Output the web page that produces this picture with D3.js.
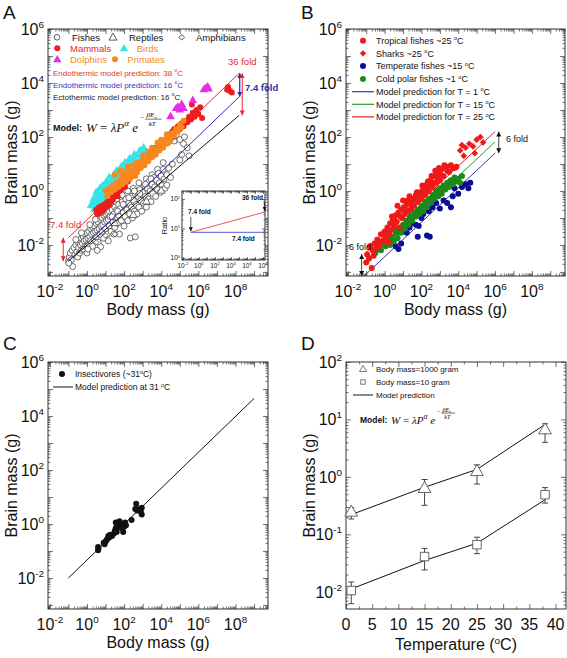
<!DOCTYPE html>
<html><head><meta charset="utf-8">
<script src="https://cdn.jsdelivr.net/npm/d3@7"></script>
<style>body{margin:0;background:#fff}svg{display:block}</style>
</head><body><svg id="c" width="567" height="658"></svg>
<script>
// ---------------- DATA (log10 body mass g, log10 brain mass g) ----------------
const A_fishes = [[-1.0,-2.6],[-0.95,-2.45],[-0.9,-2.3],[-0.85,-2.55],[-0.8,-2.2],[-0.77,-2.8],[-0.98,-2.67],[-0.7,-2.1],[-0.65,-2.35],[-0.6,-2.0],[-0.55,-2.25],[-0.5,-1.9],[-0.5,-2.45],[-0.45,-2.1],[-0.4,-1.85],[-0.4,-2.3],[-0.35,-2.0],[-0.3,-1.75],[-0.3,-2.2],[-0.25,-1.95],[-0.2,-1.7],[-0.2,-2.15],[-0.15,-1.85],[-0.1,-1.6],[-0.1,-2.05],[-0.05,-1.8],[0,-1.55],[0,-2.0],[0,-2.3],[0.05,-1.75],[0.1,-1.5],[0.1,-1.95],[0.15,-1.7],[0.2,-1.4],[0.2,-1.85],[0.25,-1.6],[0.3,-1.35],[0.3,-2.05],[0.35,-1.55],[0.4,-1.3],[0.4,-1.8],[0.45,-1.5],[0.5,-1.2],[0.5,-1.7],[0.55,-1.45],[0.6,-1.15],[0.6,-1.9],[0.65,-1.4],[0.7,-1.05],[0.7,-1.6],[0.73,-2.07],[0.75,-1.3],[0.8,-1.0],[0.8,-1.5],[0.85,-1.25],[0.9,-0.9],[0.9,-1.75],[0.95,-1.15],[1.0,-0.85],[1.0,-1.4],[1.05,-1.1],[1.1,-0.8],[1.1,-1.6],[1.15,-1.05],[1.2,-0.75],[1.2,-1.3],[1.25,-0.95],[1.3,-1.5],[1.3,-0.45],[1.35,-0.7],[1.4,-1.15],[1.45,-0.85],[1.5,-0.6],[1.5,-1.35],[1.55,-1.0],[1.6,-0.7],[1.6,-0.3],[1.65,-1.2],[1.7,-0.5],[1.7,-0.9],[1.75,-1.6],[1.8,-0.65],[1.85,-1.1],[1.9,-0.4],[1.9,-0.15],[1.95,-0.8],[2.0,-0.55],[2.0,-1.3],[2.05,-0.95],[2.1,-0.3],[2.15,-0.7],[2.2,-1.1],[2.2,0.0],[2.25,-0.45],[2.3,-0.85],[2.33,-1.74],[2.4,-0.2],[2.4,-0.6],[2.45,-1.0],[2.5,-0.35],[2.5,0.1],[2.55,-0.75],[2.6,-0.1],[2.6,-1.7],[2.65,-0.5],[2.7,-0.85],[2.75,-0.2],[2.8,-0.6],[2.8,0.3],[2.85,0.05],[2.9,-0.35],[2.95,-0.75],[3.0,-0.05],[3.05,-0.45],[3.1,0.2],[3.15,-0.2],[3.2,-0.6],[3.2,0.45],[3.25,0.1],[3.3,-0.3],[3.35,0.35],[3.4,0.0],[3.45,-0.4],[3.5,0.25],[3.5,0.6],[3.55,-0.1],[3.6,0.5],[3.65,0.15],[3.7,-0.2],[3.75,0.4],[3.8,0.05],[3.8,0.8],[3.85,0.65],[3.9,0.3],[3.95,-0.05],[4.0,0.55],[4.05,0.2],[4.1,0.8],[4.1,1.05],[4.15,0.45],[4.2,0.1],[4.3,0.6],[4.3,0.22],[4.4,0.85],[4.5,0.5],[4.55,2.1],[4.6,1.0],[4.7,1.85],[4.8,2.05],[5.0,1.15],[5.0,1.9],[5.1,1.35],[5.2,1.75],[5.25,2.0],[5.4,1.6],[5.5,1.3],[0.15,-1.25],[0.45,-1.05],[0.75,-0.8],[1.05,-0.6],[1.35,-0.95],[1.65,-0.75],[1.95,-0.5],[2.25,-0.25],[2.55,0.0],[2.85,-0.1],[3.15,0.25],[3.45,0.45],[-0.6,-1.8],[-0.3,-1.55],[0.05,-2.15],[0.55,-2.2],[1.15,-1.85],[1.45,-1.6]];
const A_reptiles = [[1.5,-1.2],[2.5,-0.9],[3.2,-0.4],[4.0,0.0]];
const A_amphibians = [[0.5,-1.9],[1.0,-1.65],[1.5,-1.6]];
const A_birds = [[0.2,-0.55],[0.3,-0.5],[0.35,-0.3],[0.4,-0.4],[0.4,-0.7],[0.45,-0.6],[0.5,-0.3],[0.5,-0.05],[0.55,-0.55],[0.6,-0.45],[0.6,-0.1],[0.65,-0.2],[0.7,-0.35],[0.7,0.1],[0.75,-0.5],[0.8,-0.1],[0.8,-0.55],[0.85,-0.3],[0.85,0.2],[0.9,0.0],[0.95,-0.35],[1.0,-0.15],[1.0,0.1],[1.05,0.35],[1.1,0.05],[1.1,-0.3],[1.15,0.25],[1.2,-0.05],[1.2,0.5],[1.25,-0.2],[1.3,0.2],[1.3,0.0],[1.35,0.4],[1.4,0.1],[1.45,-0.1],[1.45,0.6],[1.5,0.35],[1.55,0.55],[1.6,0.25],[1.6,0.75],[1.65,0.1],[1.7,0.5],[1.75,0.7],[1.8,0.4],[1.85,0.9],[1.9,0.65],[1.95,0.85],[2.0,0.55],[2.0,0.3],[2.05,1.05],[2.1,0.8],[2.2,1.0],[2.25,0.7],[2.3,1.2],[2.35,0.95],[2.4,0.6],[2.45,1.15],[2.5,0.85],[2.55,1.35],[2.6,1.1],[2.7,1.3],[2.75,0.9],[2.8,1.05],[2.85,1.5],[2.9,1.25],[3.0,1.4],[3.0,1.1],[3.05,1.6],[3.1,1.2],[3.2,1.45]];
const A_mammals = [[0.5,-0.7],[0.55,-0.85],[0.6,-0.75],[0.65,-0.6],[0.7,-0.8],[0.75,-0.7],[0.8,-0.55],[0.85,-0.75],[0.9,-0.65],[0.95,-0.5],[1.0,-0.6],[1.05,-0.45],[1.1,-0.55],[1.15,-0.35],[1.2,-0.5],[1.25,-0.3],[1.3,-0.4],[1.35,-0.2],[1.4,-0.3],[1.5,-0.15],[1.55,-0.05],[1.6,0.0],[1.65,-0.2],[1.7,0.1],[1.75,0.0],[1.8,0.2],[1.85,0.05],[1.9,0.25],[2.0,0.3],[2.05,0.15],[2.1,0.4],[2.2,0.35],[2.25,0.5],[2.3,0.45],[2.4,0.55],[2.45,0.7],[2.5,0.6],[2.6,0.75],[2.7,0.7],[2.75,0.9],[2.8,0.85],[2.9,1.0],[3.0,0.95],[3.05,1.15],[3.1,1.05],[3.2,1.2],[3.3,1.15],[3.35,1.35],[3.4,1.25],[3.5,1.4],[3.6,1.5],[3.65,1.35],[3.7,1.6],[3.8,1.55],[3.9,1.7],[4.0,1.65],[4.05,1.85],[4.1,1.75],[4.2,1.9],[4.3,1.85],[4.35,2.05],[4.4,1.95],[4.5,2.1],[4.6,2.2],[4.65,2.0],[4.7,2.3],[4.8,2.25],[4.9,2.4],[5.0,2.3],[5.1,2.5],[5.2,2.4],[5.3,2.6],[5.4,2.55],[5.5,2.75],[5.6,2.65],[5.7,2.9],[5.8,2.75],[5.9,3.0],[6.0,2.85],[6.1,3.1],[6.2,2.7],[5.65,3.2],[7.55,3.75],[7.7,3.7],[7.8,3.65],[7.6,3.85]];
const A_primates = [[1.0,0.0],[1.1,-0.2],[1.2,0.1],[1.3,-0.05],[1.4,0.2],[1.5,0.05],[1.5,0.6],[1.6,0.3],[1.7,0.15],[1.8,0.4],[1.8,0.75],[1.9,0.25],[1.9,0.55],[2.0,0.5],[2.0,0.7],[2.1,0.35],[2.2,0.6],[2.2,0.9],[2.3,0.45],[2.3,0.75],[2.4,0.7],[2.5,0.6],[2.5,0.95],[2.6,0.85],[2.6,0.55],[2.7,0.7],[2.7,1.05],[2.8,1.0],[2.9,0.85],[3.0,1.1],[3.0,1.3],[3.1,0.95],[3.1,1.15],[3.2,1.25],[3.3,1.1],[3.3,1.45],[3.4,1.35],[3.5,1.25],[3.5,1.6],[3.6,1.5],[3.7,1.35],[3.7,1.55],[3.8,1.6],[3.8,1.8],[3.9,1.5],[4.0,1.75],[4.0,1.9],[4.1,1.6],[4.2,1.9],[4.3,1.75],[4.3,2.1],[4.4,2.0],[4.4,1.8],[4.5,1.9],[4.6,2.15],[4.7,2.05],[4.8,2.3],[4.9,2.2],[5.0,2.45],[5.1,2.35],[5.2,2.6]];
const A_dolphins = [[4.5,2.75],[4.8,3.05],[4.9,3.1],[5.0,3.0],[5.1,3.2],[5.2,3.05],[5.7,3.35],[6.3,3.75],[6.4,3.8],[6.5,3.85],[6.55,3.78]];
const A_modelEndo38 = [[-1,-1.73],[8.2,4.36]];
const A_modelEndo16 = [[-1,-2.6],[8.2,3.49]];
const A_modelEcto16 = [[-1,-2.6],[8.2,2.8]];
const A_inset38 = [[-1,0.87],[8.2,1.556]];
const A_inset16 = [[-1,0.87],[8.2,0.87]];

const B_tropical = [[-1.0,-2.65],[-0.95,-2.35],[-0.85,-2.5],[-0.8,-2.05],[-0.7,-2.85],[-0.65,-2.2],[-0.6,-2.4],[-0.55,-1.95],[-0.5,-2.15],[-0.45,-1.95],[-0.4,-1.8],[-0.3,-2.05],[-0.25,-1.9],[-0.2,-1.6],[-0.1,-1.85],[0.0,-1.5],[0.05,-1.7],[0.1,-1.55],[0.15,-1.35],[0.2,-1.9],[0.25,-1.6],[0.3,-1.2],[0.35,-1.45],[0.4,-0.95],[0.45,-1.05],[0.5,-1.3],[0.55,-1.1],[0.6,-0.9],[0.65,-1.15],[0.7,-0.55],[0.75,-0.8],[0.8,-1.35],[0.85,-0.95],[0.9,-0.7],[0.95,-1.0],[1.0,-0.35],[1.05,-0.6],[1.1,-0.85],[1.15,-0.7],[1.2,-0.5],[1.25,-0.35],[1.3,-0.75],[1.35,-0.2],[1.4,-0.4],[1.45,-0.65],[1.5,-0.5],[1.55,-0.3],[1.6,-0.55],[1.65,-0.3],[1.7,-0.15],[1.75,-0.05],[1.8,-0.4],[1.9,-0.05],[1.95,-0.2],[2.0,-0.3],[2.05,0.2],[2.1,0.1],[2.15,-0.05],[2.2,-0.15],[2.25,0.05],[2.3,0.25],[2.35,0.35],[2.4,0.0],[2.45,0.2],[2.5,0.4],[2.55,0.55],[2.6,0.15],[2.65,0.3],[2.7,0.55],[2.75,0.75],[2.8,0.3],[2.85,0.5],[2.9,0.65],[2.95,0.85],[3.0,0.4],[3.05,0.6],[3.1,0.8],[3.2,0.55],[3.25,0.95],[3.35,0.9],[3.4,0.75],[3.5,0.7],[3.6,0.95],[3.7,0.85],[3.8,0.85],[3.9,0.9]];
const B_sharks = [[4.1,1.5],[4.2,1.7],[4.3,1.3],[4.4,1.6],[4.6,1.75],[4.8,1.65],[4.9,1.4],[5.0,1.9],[5.2,2.0],[5.35,1.8]];
const B_temperate = [[0.6,-2.05],[0.75,-2.15],[0.9,-1.95],[1.05,-1.5],[1.2,-1.55],[1.35,-1.35],[1.5,-1.2],[1.7,-1.25],[1.8,-1.7],[1.85,-1.3],[2.0,-1.0],[2.1,-0.85],[2.3,-1.65],[2.45,-1.7],[2.4,-0.75],[2.6,-0.6],[2.8,-0.45],[2.9,-0.2],[3.0,-0.65],[3.2,-0.35],[3.4,-0.45],[3.6,-0.6],[3.7,-0.2],[3.8,0.1],[4.0,-0.1],[4.2,0.15],[4.4,0.25],[4.55,0.1],[4.65,0.3]];
const B_polar = [[-0.5,-2.3],[-0.35,-2.15],[-0.2,-2.2],[-0.1,-1.95],[0.05,-2.05],[0.15,-1.6],[0.2,-1.8],[0.3,-2.0],[0.35,-1.85],[0.4,-1.7],[0.5,-1.85],[0.55,-1.45],[0.6,-1.55],[0.7,-1.75],[0.75,-1.55],[0.8,-1.4],[0.9,-1.55],[0.95,-1.35],[1.0,-1.25],[1.1,-1.4],[1.15,-1.2],[1.2,-1.1],[1.3,-1.25],[1.35,-1.0],[1.4,-0.95],[1.5,-1.1],[1.55,-0.95],[1.6,-0.8],[1.7,-0.95],[1.75,-0.8],[1.8,-0.7],[1.9,-0.85],[1.95,-0.65],[2.0,-0.55],[2.1,-0.75],[2.15,-0.55],[2.2,-0.4],[2.3,-0.6],[2.35,-0.45],[2.4,-0.3],[2.5,-0.45],[2.55,-0.3],[2.6,-0.15],[2.7,-0.3],[2.75,-0.1],[2.8,0.0],[2.9,-0.2],[2.95,0.05],[3.0,0.1],[3.1,-0.1],[3.15,0.1],[3.2,0.2],[3.3,0.05],[3.35,0.2],[3.4,0.3],[3.5,0.15],[3.55,0.35],[3.6,0.4],[3.7,0.25],[3.75,0.4],[3.8,0.5],[3.9,0.35],[4.0,0.45],[4.1,0.3],[4.2,0.55]];
const B_modelT1 = [[-1.1,-3.14],[6,1.4]];
const B_modelT15 = [[-1.1,-2.72],[6,1.82]];
const B_modelT25 = [[-1.1,-2.34],[6,2.2]];

const C_insectivores = [[0.6,-0.85],[0.6,-0.97],[0.62,-0.9],[0.9,-0.7],[0.95,-0.75],[1.0,-0.65],[1.05,-0.6],[1.1,-0.55],[1.15,-0.45],[1.2,-0.5],[1.25,-0.4],[1.35,-0.45],[1.45,-0.35],[1.5,-0.25],[1.55,-0.15],[1.55,0.05],[1.6,-0.3],[1.65,-0.1],[1.7,0.05],[1.75,0.1],[1.8,-0.05],[1.85,-0.15],[1.9,0.0],[1.95,-0.3],[2.0,-0.1],[2.05,0.05],[2.1,-0.05],[2.4,0.15],[2.6,0.55],[2.65,0.75],[2.7,0.5],[2.8,0.55],[2.9,0.45],[2.95,0.35],[2.95,0.6]];
const C_model31 = [[-1,-2],[9,4.65]];

const D_temps = [1,15,25,38];
const D_tri = [0.24,0.62,1.22,6.5];
const D_triLo = [0.185,0.32,0.75,4.0];
const D_triHi = [0.29,0.9,1.62,8.4];
const D_triModel = [0.22,0.66,1.35,8.2];
const D_sq = [0.0105,0.041,0.066,0.49];
const D_sqLo = [0.0062,0.024,0.046,0.35];
const D_sqHi = [0.0148,0.057,0.089,0.65];
const D_sqModel = [0.0112,0.035,0.07,0.4];
const D_xTicks = [0,5,10,15,20,25,30,35,40];

const logXLabels = [-2,0,2,4,6,8];
const logYLabels = [-2,0,2,4,6];
const D_yLabels = [-2,-1,0,1,2];
const inset_xLabels = [-2,0,2,4,6,8];
const inset_yLabels = [0,1,2];

// ---------------- HELPERS ----------------
const SANS='"Liberation Sans",Arial,Helvetica,sans-serif';
const SERIF='"Liberation Serif","DejaVu Serif","Times New Roman",serif';
const p10=v=>Math.pow(10,v);
const svg=d3.select('#c');
svg.append('rect').attr('width',567).attr('height',658).attr('fill','#fff');
const defs=svg.append('defs');
function arrowMarker(id,color,s){
  defs.append('marker').attr('id',id).attr('viewBox','0 0 10 10').attr('refX',10).attr('refY',5)
    .attr('markerWidth',s).attr('markerHeight',s).attr('markerUnits','userSpaceOnUse')
    .attr('orient','auto-start-reverse').append('path').attr('d','M0,0L10,5L0,10z').attr('fill',color);
}
arrowMarker('arR','#e8262b',5);arrowMarker('arB','#2b2bb0',5);arrowMarker('arK','#111',5);arrowMarker('arKs','#111',4);

function frame(g,x,y,box,xM,xm,yM,ym,L){
  const add=(axis,tx,ty)=>{const s=g.append('g').attr('transform',`translate(${tx},${ty})`).call(axis);
    s.select('.domain').remove();s.selectAll('text').remove();s.selectAll('line').attr('stroke','#333').attr('stroke-width',0.7);};
  [[xM,L],[xm,L*0.5]].forEach(([v,l])=>{
    add(d3.axisBottom(x).tickValues(v).tickSizeInner(-l).tickSizeOuter(0).tickFormat(''),0,box.b);
    add(d3.axisTop(x).tickValues(v).tickSizeInner(-l).tickSizeOuter(0).tickFormat(''),0,box.t);
  });
  [[yM,L],[ym,L*0.5]].forEach(([v,l])=>{
    add(d3.axisLeft(y).tickValues(v).tickSizeInner(-l).tickSizeOuter(0).tickFormat(''),box.l,0);
    add(d3.axisRight(y).tickValues(v).tickSizeInner(-l).tickSizeOuter(0).tickFormat(''),box.r,0);
  });
  g.append('rect').attr('x',box.l).attr('y',box.t).attr('width',box.r-box.l).attr('height',box.b-box.t)
    .attr('fill','none').attr('stroke','#333').attr('stroke-width',1);
}
const decs=d=>d3.range(Math.ceil(d[0]-1e-9),Math.floor(d[1]+1e-9)+1).map(p10);
const mins=d=>{const a=[];for(let e=Math.floor(d[0]);e<Math.ceil(d[1]);e++)for(let m=2;m<10;m++){const lv=Math.log10(m)+e;if(lv>d[0]&&lv<d[1])a.push(p10(lv));}return a;};

let clipN=0;
function logPanel(box,xd,yd,L){
  const g=svg.append('g');
  const x=d3.scaleLog().domain([p10(xd[0]),p10(xd[1])]).range([box.l,box.r]);
  const y=d3.scaleLog().domain([p10(yd[0]),p10(yd[1])]).range([box.b,box.t]);
  const id='clip'+(clipN++);
  defs.append('clipPath').attr('id',id).append('rect').attr('x',box.l).attr('y',box.t).attr('width',box.r-box.l).attr('height',box.b-box.t);
  const data=g.append('g').attr('clip-path',`url(#${id})`);
  frame(g,x,y,box,decs(xd),mins(xd),decs(yd),mins(yd),L);
  return {g,data,x,y,box};
}
function supLabel(g,x,y,base,exp,anchor,fs){
  const t=g.append('text').attr('x',x).attr('y',y).attr('text-anchor',anchor).attr('font-size',fs).attr('font-family',SANS).attr('fill','#111');
  t.append('tspan').text(base);
  t.append('tspan').attr('dy',-fs*0.45).attr('font-size',fs*0.62).text(exp);
  return t;
}
function richText(g,x,y,str,fs,color,opts){
  opts=opts||{};
  const t=g.append('text').attr('x',x).attr('y',y).attr('font-size',fs).attr('font-family',SANS).attr('fill',color||'#111')
    .attr('font-weight',opts.bold?'bold':'normal').attr('text-anchor',opts.anchor||'start');
  if(opts.rotate)t.attr('transform',`rotate(-90,${x},${y})`);
  const parts=str.split('°');
  t.append('tspan').text(parts[0]);
  if(parts.length>1){t.append('tspan').attr('font-size',fs*0.62).attr('dy',-fs*0.38).text('o');t.append('tspan').attr('dy',fs*0.38).text(parts[1]);}
  return t;
}
function logAxisLabels(P,xl,yl,fs){
  xl.forEach(e=>supLabel(P.g,P.x(p10(e)),P.box.b+21,'10',String(e),'middle',fs));
  yl.forEach(e=>supLabel(P.g,P.box.l-4,P.y(p10(e))+6,'10',String(e),'end',fs));
}
function titles(g,box,xt,yt,fs){
  richText(g,(box.l+box.r)/2,box.b+39,xt,fs,'#111',{anchor:'middle'});
  richText(g,box.l-31,(box.t+box.b)/2,yt,fs,'#111',{anchor:'middle',rotate:true});
}
function panelLetter(x,y,s){svg.append('text').attr('x',x).attr('y',y).attr('font-size',19).attr('font-family',SANS).attr('fill','#111').text(s);}
function formula(g,x,y,fs){
  const t=g.append('text').attr('x',x).attr('y',y).attr('font-size',fs).attr('font-family',SERIF).attr('fill','#111');
  t.append('tspan').attr('font-style','italic').text('W');
  t.append('tspan').text(' = ');
  t.append('tspan').attr('font-style','italic').text('λP');
  t.append('tspan').attr('font-style','italic').attr('dy',-fs*0.4).attr('font-size',fs*0.7).text('α');
  t.append('tspan').attr('font-style','italic').attr('dy',fs*0.4).text(' e');
  const w=t.node().getComputedTextLength();
  const fx=x+w+2, f=fs*0.55;
  g.append('text').attr('x',fx).attr('y',y-fs*0.85).attr('font-size',f).attr('font-family',SERIF).text('−');
  const fx2=fx+f*0.7;
  const num=g.append('text').attr('x',fx2+f*0.2).attr('y',y-fs*1.08).attr('font-size',f).attr('font-family',SERIF).attr('font-style','italic');
  num.append('tspan').text('βE');num.append('tspan').attr('font-size',f*0.7).attr('dy',f*0.25).text('v');
  g.append('line').attr('x1',fx2).attr('x2',fx2+f*2.3).attr('y1',y-fs*0.95).attr('y2',y-fs*0.95).attr('stroke','#111').attr('stroke-width',0.6);
  g.append('text').attr('x',fx2+f*0.5).attr('y',y-fs*0.42).attr('font-size',f).attr('font-family',SERIF).attr('font-style','italic').text('kT');
}
const sym=(type,size)=>d3.symbol().type(type).size(size)();
function drawLine(sel,P,pts,color,w){
  sel.append('path').attr('d',d3.line().x(d=>P.x(p10(d[0]))).y(d=>P.y(p10(d[1])))(pts)).attr('fill','none').attr('stroke',color).attr('stroke-width',w||1);
}
function dots(sel,P,pts,r,fill,stroke,sw){
  sel.selectAll(null).data(pts).enter().append('circle').attr('cx',d=>P.x(p10(d[0]))).attr('cy',d=>P.y(p10(d[1]))).attr('r',r)
    .attr('fill',fill).attr('stroke',stroke||'none').attr('stroke-width',sw||0);
}
function syms(sel,P,pts,type,size,fill,stroke,sw,rot){
  sel.selectAll(null).data(pts).enter().append('path').attr('d',sym(type,size))
    .attr('transform',d=>`translate(${P.x(p10(d[0]))},${P.y(p10(d[1]))})`+(rot?` rotate(${rot})`:'')).attr('fill',fill).attr('stroke',stroke||'none').attr('stroke-width',sw||0);
}
function vArrow(g,x,y1,y2,color,marker,both,w){
  const l=g.append('line').attr('x1',x).attr('x2',x).attr('y1',y1).attr('y2',y2).attr('stroke',color).attr('stroke-width',w||1).attr('marker-end',`url(#${marker})`);
  if(both)l.attr('marker-start',`url(#${marker})`);
}

// colours
const cRed='#ee1c1c',cCyan='#33e3ea',cOrange='#f7871f',cMag='#e52ee6',cLR='#e8262b',cLB='#2b2bb0';

// ---------------- PANEL A ----------------
panelLetter(3,19,'A');
const A=logPanel({l:48,t:29,r:268,b:276},[-2.1,9.75],[-3.15,6],5);
logAxisLabels(A,logXLabels,logYLabels,16);
titles(A.g,A.box,'Body mass (g)','Brain mass (g)',16);
dots(A.data,A,A_fishes,3,'#fff','#333',0.7);
syms(A.data,A,A_reptiles,d3.symbolTriangle,26,'#fff','#333',0.7);
syms(A.data,A,A_amphibians,d3.symbolSquare,14,'#fff','#333',0.7,45);
syms(A.data,A,A_birds,d3.symbolTriangle,30,cCyan);
drawLine(A.data,A,A_modelEcto16,'#111',1);
drawLine(A.data,A,A_modelEndo16,cLB,1);
drawLine(A.data,A,A_modelEndo38,cLR,1);
dots(A.data,A,A_mammals,3,cRed);
dots(A.data,A,A_primates,3,cOrange);
syms(A.data,A,A_dolphins,d3.symbolTriangle,32,cMag);
{
  const xr=A.x(p10(8.2)), top=A.y(p10(A_modelEndo38[1][1]));
  vArrow(A.g,xr+0.5,top,A.y(p10(A_modelEndo16[1][1])),cLB,'arB',true,1.2);
  vArrow(A.g,xr+3,top,A.y(p10(A_modelEcto16[1][1])),cLR,'arR',true,1);
  const xl=A.x(p10(-1.28));
  vArrow(A.g,xl,A.y(p10(A_modelEndo38[0][1])),A.y(p10(A_modelEndo16[0][1])),cLR,'arR',true,1);
  A.g.append('text').attr('x',228).attr('y',65).attr('font-size',9.5).attr('font-family',SANS).attr('fill',cLR).text('36 fold');
  A.g.append('text').attr('x',245).attr('y',91).attr('font-size',9.5).attr('font-weight','bold').attr('font-family',SANS).attr('fill',cLB).text('7.4 fold');
  A.g.append('text').attr('x',50).attr('y',228).attr('font-size',9.5).attr('font-family',SANS).attr('fill',cLR).text('7.4 fold');
}
{
  const g=A.g, fs=9.5;
  const lt=(x,y,s,c)=>g.append('text').attr('x',x).attr('y',y+3.3).attr('font-size',fs).attr('font-family',SANS).attr('fill',c).text(s);
  g.append('circle').attr('cx',57).attr('cy',37.3).attr('r',2.8).attr('fill','#fff').attr('stroke','#333').attr('stroke-width',0.8); lt(72,37.3,'Fishes','#111');
  g.append('path').attr('d',sym(d3.symbolTriangle,28)).attr('transform','translate(113,37.8)').attr('fill','#fff').attr('stroke','#333').attr('stroke-width',0.8); lt(129,37.3,'Reptiles','#111');
  g.append('path').attr('d',sym(d3.symbolSquare,16)).attr('transform','translate(181.7,37.3) rotate(45)').attr('fill','#fff').attr('stroke','#333').attr('stroke-width',0.8); lt(196,37.3,'Amphibians','#111');
  g.append('circle').attr('cx',57.3).attr('cy',48.3).attr('r',3).attr('fill',cRed); lt(70,48.3,'Mammals',cRed);
  g.append('path').attr('d',sym(d3.symbolTriangle,30)).attr('transform','translate(124,48.8)').attr('fill',cCyan); lt(136.7,48.3,'Birds','#f08c1e');
  g.append('path').attr('d',sym(d3.symbolTriangle,30)).attr('transform','translate(57.3,59.8)').attr('fill',cMag); lt(70,59.3,'Dolphins','#f08c1e');
  g.append('circle').attr('cx',115).attr('cy',59.3).attr('r',3).attr('fill',cOrange); lt(127.3,59.3,'Primates','#f08c1e');
  richText(g,53,75.5,'Endothermic model prediction: 38 °C',8,'#e83030');
  richText(g,53,87.5,'Endothermic model prediction: 16 °C',8,'#3434c8');
  richText(g,53,99.5,'Ectothermic model prediction: 16 °C',8,'#222');
  g.append('text').attr('x',53).attr('y',131).attr('font-size',9).attr('font-weight','bold').attr('font-family',SANS).attr('fill','#111').text('Model:');
  formula(g,86,131.5,13);
}
{
  const ib={l:182,t:191,r:265,b:260};
  A.g.append('rect').attr('x',ib.l).attr('y',ib.t).attr('width',ib.r-ib.l).attr('height',ib.b-ib.t).attr('fill','#fff');
  const I=logPanel(ib,[-2.1,8.25],[-0.07,2.27],3);
  inset_xLabels.forEach(e=>supLabel(I.g,I.x(p10(e)),ib.b+8,'10',String(e),'middle',6.5));
  inset_yLabels.forEach(e=>supLabel(I.g,ib.l-2,I.y(p10(e))+2.5,'10',String(e),'end',6.5));
  richText(I.g,167,(ib.t+ib.b)/2,'Ratio',7.5,'#111',{anchor:'middle',rotate:true});
  drawLine(I.data,I,A_inset16,'#7777dd',1.2);
  drawLine(I.data,I,A_inset38,'#ee5555',1);
  const bt=(x,y,s)=>I.g.append('text').attr('x',x).attr('y',y).attr('font-size',6.5).attr('font-weight','bold').attr('font-family',SANS).attr('fill','#111').text(s);
  bt(188,214,'7.4 fold'); bt(242,200,'36 fold'); bt(232,241,'7.4 fold');
  vArrow(I.g,I.x(p10(-1)),217,I.y(p10(0.87))-1,'#111','arKs',false,0.7);
  vArrow(I.g,I.x(p10(8.2)),202,I.y(p10(1.556))-1,'#111','arKs',false,0.7);
}

// ---------------- PANEL B ----------------
panelLetter(301,19,'B');
const B=logPanel({l:346,t:29,r:565,b:276},[-2.1,9.8],[-3.15,6],5);
logAxisLabels(B,logXLabels,logYLabels,16);
titles(B.g,B.box,'Body mass (g)','Brain mass (g)',16);
const cBR='#f01818',cBN='#0b0b96',cBG='#1a8a1a';
drawLine(B.data,B,B_modelT1,'#2b3aa8',1);
drawLine(B.data,B,B_modelT15,'#2a9a2a',1);
drawLine(B.data,B,B_modelT25,'#e02020',1);
dots(B.data,B,B_temperate,3,cBN);
dots(B.data,B,B_polar,3,cBG);
dots(B.data,B,B_tropical,3,cBR);
syms(B.data,B,B_sharks,d3.symbolSquare,22,cBR,null,0,45);
{
  const g=B.g, fs=9;
  const rows=[40.7,53.3,66,79,91.7,104.3,116.9];
  const lt=(i,s,c)=>richText(g,376,rows[i]+3.2,s,fs,'#111');
  g.append('circle').attr('cx',363).attr('cy',rows[0]).attr('r',3).attr('fill',cBR); lt(0,'Tropical fishes ~25 °C');
  g.append('path').attr('d',sym(d3.symbolSquare,20)).attr('transform',`translate(363,${rows[1]}) rotate(45)`).attr('fill',cBR); lt(1,'Sharks ~25 °C');
  g.append('circle').attr('cx',363).attr('cy',rows[2]).attr('r',3).attr('fill',cBN); lt(2,'Temperate fishes ~15 °C');
  g.append('circle').attr('cx',363).attr('cy',rows[3]).attr('r',3).attr('fill',cBG); lt(3,'Cold polar fishes ~1 °C');
  [['#2b3aa8','Model prediction for T = 1 °C'],['#2a9a2a','Model prediction for T = 15 °C'],['#e02020','Model prediction for T = 25 °C']].forEach((d,i)=>{
    g.append('line').attr('x1',352).attr('x2',374).attr('y1',rows[4+i]).attr('y2',rows[4+i]).attr('stroke',d[0]).attr('stroke-width',1.2);
    lt(4+i,d[1]);
  });
  const xr=B.x(p10(6.2));
  vArrow(g,xr,B.y(p10(B_modelT25[1][1])),B.y(p10(B_modelT1[1][1])),'#111','arK',true,0.8);
  g.append('text').attr('x',506).attr('y',142).attr('font-size',9).attr('font-family',SANS).attr('fill','#111').text('6 fold');
  const xl=B.x(p10(-1.25));
  vArrow(g,xl,B.y(p10(B_modelT25[0][1])),B.box.b,'#111','arK',true,0.8);
  g.append('text').attr('x',349).attr('y',250).attr('font-size',9).attr('font-family',SANS).attr('fill','#111').text('6 fold');
}

// ---------------- PANEL C ----------------
panelLetter(3,350,'C');
const C=logPanel({l:48,t:362,r:268,b:609},[-2.1,9.75],[-3.15,6],5);
logAxisLabels(C,logXLabels,logYLabels,16);
titles(C.g,C.box,'Body mass (g)','Brain mass (g)',16);
drawLine(C.data,C,C_model31,'#111',1);
dots(C.data,C,C_insectivores,3,'#111');
C.g.append('circle').attr('cx',62).attr('cy',374).attr('r',3).attr('fill','#111');
richText(C.g,75,377,'Insectivores (~31°C)',8.5,'#111');
C.g.append('line').attr('x1',53).attr('x2',73).attr('y1',387).attr('y2',387).attr('stroke','#111');
richText(C.g,75,390,'Model prediction at 31 °C',8.5,'#111');

// ---------------- PANEL D ----------------
panelLetter(301,350,'D');
{
  const box={l:346,t:362,r:566,b:609};
  const g=svg.append('g');
  const x=d3.scaleLinear().domain([0,42]).range([box.l,box.r]);
  const yd=[-2.3,2];
  const y=d3.scaleLog().domain([p10(yd[0]),p10(yd[1])]).range([box.b,box.t]);
  frame(g,x,y,box,D_xTicks,d3.range(2.5,42,5),decs(yd),mins(yd),5);
  D_xTicks.forEach(v=>g.append('text').attr('x',x(v)).attr('y',box.b+21).attr('text-anchor','middle').attr('font-size',16).attr('font-family',SANS).attr('fill','#111').text(v));
  D_yLabels.forEach(e=>supLabel(g,box.l-4,y(p10(e))+6,'10',String(e),'end',16));
  richText(g,(box.l+box.r)/2,box.b+41,'Temperature (°C)',16,'#111',{anchor:'middle'});
  richText(g,box.l-31,(box.t+box.b)/2,'Brain mass (g)',16,'#111',{anchor:'middle',rotate:true});
  const line=d3.line().x((d,i)=>x(D_temps[i])).y(d=>y(d));
  g.append('path').attr('d',line(D_triModel)).attr('fill','none').attr('stroke','#111').attr('stroke-width',1);
  g.append('path').attr('d',line(D_sqModel)).attr('fill','none').attr('stroke','#111').attr('stroke-width',1);
  const err=(vals,lo,hi,type,size)=>{
    D_temps.forEach((t,i)=>{
      const cx=x(t);
      g.append('line').attr('x1',cx).attr('x2',cx).attr('y1',y(lo[i])).attr('y2',y(hi[i])).attr('stroke','#444').attr('stroke-width',1);
      [lo[i],hi[i]].forEach(v=>g.append('line').attr('x1',cx-3).attr('x2',cx+3).attr('y1',y(v)).attr('y2',y(v)).attr('stroke','#444').attr('stroke-width',1));
      g.append('path').attr('d',sym(type,size)).attr('transform',`translate(${cx},${y(vals[i])})`).attr('fill','#fff').attr('stroke','#555').attr('stroke-width',0.9);
    });
  };
  err(D_tri,D_triLo,D_triHi,d3.symbolTriangle,70);
  err(D_sq,D_sqLo,D_sqHi,d3.symbolSquare,72);
  const rows=[369,382,395];
  g.append('path').attr('d',sym(d3.symbolTriangle,22)).attr('transform',`translate(363,${rows[0]+0.5})`).attr('fill','#fff').attr('stroke','#555').attr('stroke-width',0.8);
  richText(g,376,rows[0]+3,'Body mass=1000 gram',8,'#111');
  g.append('path').attr('d',sym(d3.symbolSquare,20)).attr('transform',`translate(363,${rows[1]})`).attr('fill','#fff').attr('stroke','#555').attr('stroke-width',0.8);
  richText(g,376,rows[1]+3,'Body mass=10 gram',8,'#111');
  g.append('line').attr('x1',353).attr('x2',373).attr('y1',rows[2]).attr('y2',rows[2]).attr('stroke','#111');
  richText(g,376,rows[2]+3,'Model prediction',8,'#111');
  g.append('text').attr('x',360).attr('y',423).attr('font-size',8.5).attr('font-weight','bold').attr('font-family',SANS).attr('fill','#111').text('Model:');
  formula(g,391,423.5,11);
}
</script></body></html>
